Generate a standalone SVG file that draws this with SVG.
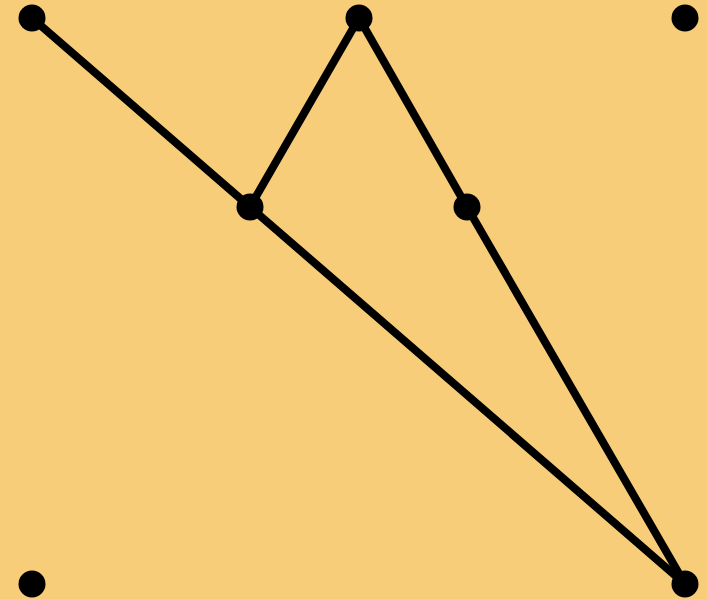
<svg xmlns="http://www.w3.org/2000/svg" width="707" height="599" viewBox="0 0 707 599">
<style>
.e{stroke:#000;stroke-width:8;fill:none;stroke-linecap:round}
.n{fill:#000}
</style>
<rect width="707" height="599" fill="#F7CD7A"/>
<g id="connectors">
<line class="e" x1="32" y1="18" x2="685" y2="584"/>
<line class="e" x1="250" y1="207" x2="359" y2="18"/>
<line class="e" x1="359" y1="18" x2="467" y2="207"/>
<line class="e" x1="467" y1="207" x2="685" y2="584"/>
</g>
<g id="n1"><circle class="n" cx="32" cy="18" r="13.5"/></g>
<g id="n2"><circle class="n" cx="359" cy="18" r="13.5"/></g>
<g id="n3"><circle class="n" cx="685" cy="18" r="13.5"/></g>
<g id="n4"><circle class="n" cx="250" cy="207" r="13.5"/></g>
<g id="n5"><circle class="n" cx="467" cy="207" r="13.5"/></g>
<g id="n6"><circle class="n" cx="32" cy="584" r="13.5"/></g>
<g id="n7"><circle class="n" cx="685" cy="584" r="13.5"/></g>
</svg>
